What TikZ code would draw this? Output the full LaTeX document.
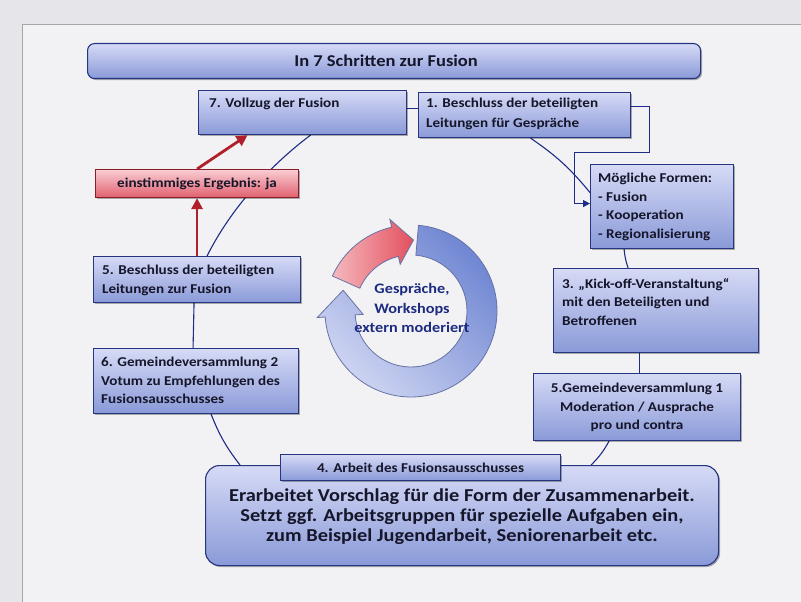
\documentclass[tikz,border=0pt]{standalone}
\usepackage{fontspec}
\setmainfont{Carlito}[FakeStretch=1.12]
\usetikzlibrary{shadows,calc,arrows.meta}
\pgfdeclarelayer{page}
\pgfdeclarelayer{bg}
\pgfsetlayers{page,bg,main}
\definecolor{pagebg}{HTML}{E6E6EA}
\definecolor{panel}{HTML}{F2F2F5}
\definecolor{boxtop}{HTML}{D6DAF6}
\definecolor{boxbot}{HTML}{8A9AD8}
\definecolor{boxline}{HTML}{25357F}
\definecolor{redtop}{HTML}{F9CDD4}
\definecolor{redbot}{HTML}{E0606E}
\definecolor{redline}{HTML}{8A1E28}
\definecolor{arrowred}{HTML}{B0202A}
\definecolor{conn}{HTML}{1E2C88}
\definecolor{txt}{HTML}{16162A}
\definecolor{ctxt}{HTML}{1C2A80}
\definecolor{ringdark}{HTML}{6F86D2}
\definecolor{ringlight}{HTML}{D0D6F2}
\definecolor{ringpink}{HTML}{F6B8BE}
\definecolor{ringred}{HTML}{E2505E}
\begin{document}
\begin{tikzpicture}[x=1pt,y=-1pt,
  blbox/.style={draw=boxline, line width=1.1pt, top color=boxtop, bottom color=boxbot,
    anchor=north west, inner sep=0pt,
    drop shadow={shadow xshift=1.5pt, shadow yshift=-1.5pt, opacity=0.3, fill=black}},
  redbox/.style={blbox, draw=redline, top color=redtop, bottom color=redbot},
  btxt/.style={font=\bfseries\fontsize{13.5}{18.5}\selectfont, text=txt, inner sep=0pt, align=left, anchor=north west},
  ctr/.style={btxt, align=center, anchor=center},
  conn/.style={draw=conn, line width=1.1pt},
  redarr/.style={draw=arrowred, line width=2.8pt, -{Triangle[length=11pt,width=11pt]}},
  ring/.style={draw=boxline!70, line width=0.8pt}
]
\useasboundingbox (0,0) rectangle (801,602);
\begin{pgfonlayer}{page}
  \fill[pagebg] (0,0) rectangle (801,602);
  \fill[panel] (22,25) rectangle (801,602);
  \draw[black!35, line width=1pt] (22,602) -- (22,25) -- (801,25);
\end{pgfonlayer}

% title
\node[blbox, rounded corners=7pt, minimum width=613pt, minimum height=35pt] (title) at (87,43) {};
\node[ctr, font=\bfseries\fontsize{16.5}{19}\selectfont] (ttitle) at ([xshift=-8pt]title.center) {In 7 Schritten zur Fusion};

% box 7
\node[blbox, minimum width=208pt, minimum height=44pt] (b7) at (198,90) {};
\node[btxt] (t7) at ([xshift=11pt,yshift=-8pt]b7.north west) {7. Vollzug der Fusion};

% box 1
\node[blbox, minimum width=212pt, minimum height=45pt] (b1) at (418,92) {};
\node[btxt, font=\bfseries\fontsize{13.5}{20}\selectfont] (t1) at ([xshift=8pt,yshift=-6pt]b1.north west) {1. Beschluss der beteiligten\\Leitungen für Gespräche};

% possible forms
\node[blbox, minimum width=143pt, minimum height=84pt] (mf) at (590,164) {};
\node[btxt] (tmf) at ([xshift=8pt,yshift=-9pt]mf.north west) {Mögliche Formen:\\- Fusion\\- Kooperation\\- Regionalisierung};

% box 3
\node[blbox, minimum width=205pt, minimum height=84pt] (b3) at (553,268) {};
\node[btxt] (t3) at ([xshift=9pt,yshift=-10pt]b3.north west) {3. „Kick-off-Veranstaltung“\\mit den Beteiligten und\\Betroffenen};

% Gemeindeversammlung 1
\node[blbox, minimum width=207pt, minimum height=67pt] (gv1) at (533,373) {};
\node[btxt, align=center, anchor=north] (tgv1) at ([yshift=-10pt]gv1.north) {5.Gemeindeversammlung 1\\Moderation / Ausprache\\pro und contra};

% red box
\node[redbox, minimum width=203pt, minimum height=28pt] (rb) at (95,169) {};
\node[ctr] (trb) at (rb.center) {einstimmiges Ergebnis: ja};

% box 5
\node[blbox, minimum width=207pt, minimum height=46pt] (b5) at (93,256) {};
\node[btxt] (t5) at ([xshift=9pt,yshift=-9pt]b5.north west) {5. Beschluss der beteiligten\\Leitungen zur Fusion};

% box 6
\node[blbox, minimum width=205pt, minimum height=65pt] (b6) at (93,348) {};
\node[btxt] (t6) at ([xshift=8pt,yshift=-9pt]b6.north west) {6. Gemeindeversammlung 2\\Votum zu Empfehlungen des\\Fusionsausschusses};

% box 4
\node[blbox, rounded corners=14pt, minimum width=513pt, minimum height=100pt] (b4) at (205,465) {};
\node[blbox, minimum width=280pt, minimum height=26pt] (b4h) at (280,454) {};
\node[ctr] (tb4h) at (b4h.center) {4. Arbeit des Fusionsausschusses};
\node[ctr, font=\bfseries\fontsize{18.2}{20}\selectfont] (tb4) at (462,517) {Erarbeitet Vorschlag für die Form der Zusammenarbeit.\\Setzt ggf. Arbeitsgruppen für spezielle Aufgaben ein,\\zum Beispiel Jugendarbeit, Seniorenarbeit etc.};

% connectors of the cycle
\begin{pgfonlayer}{bg}
  \draw[conn] ([yshift=4pt]b7.east) -- ([yshift=4pt]b7.east -| b1.west);
  \draw[conn] ([xshift=8pt]b7.south) .. controls +(-40,30) and +(24,-48) .. ([xshift=10pt]b5.north);
  \draw[conn] ([xshift=-3pt]b5.south) -- ([xshift=-3pt]b6.north);
  \draw[conn] ([xshift=15pt]b6.south) to[bend right=8] ([xshift=35pt]b4.north west);
  \draw[conn] ([xshift=-28pt]gv1.south) to[bend left=8] ([xshift=-128pt]b4.north east);
  \draw[conn] ([xshift=2pt]gv1.north) -- ([xshift=2pt]gv1.north |- b3.south);
  \draw[conn] ([xshift=-28pt]b3.north) to[bend left=6] ([xshift=-38pt]mf.south);
  \draw[conn] ([xshift=6pt]b1.south) to[bend left=8] ([yshift=14pt]mf.west);
  \draw[conn, -{Triangle[length=7pt,width=7pt]}] ([yshift=9pt]b1.east) -- ++(18,0) -- ++(0,46) -- ++(-75,0) |- ([yshift=3pt]mf.west);
\end{pgfonlayer}

% red arrows
\draw[redarr] (b5.north) -- (rb.south);
\draw[redarr] (rb.north) -- ([xshift=-55pt]b7.south);

% central cycle
\begin{scope}[shift={(411,311)}, y=1pt]
  \path[ring, top color=ringdark, bottom color=ringlight, shading angle=-45]
    (85:86) arc[start angle=85, end angle=-176, radius=86] -- (-176:94) -- (-197:71) -- (-176:48) -- (-176:56)
    arc[start angle=-176, end angle=85, radius=56] -- cycle;
  \path[ring, left color=ringpink, right color=ringred]
    (156:86) arc[start angle=156, end angle=103, radius=86] -- (103:94) -- (88:71) -- (103:48) -- (103:56)
    arc[start angle=103, end angle=156, radius=56] -- cycle;
\end{scope}
\node[ctr, text=ctxt, font=\bfseries\fontsize{14.5}{19.5}\selectfont] (tc) at (412,308) {Gespräche,\\Workshops\\extern moderiert};
\end{tikzpicture}
\end{document}
